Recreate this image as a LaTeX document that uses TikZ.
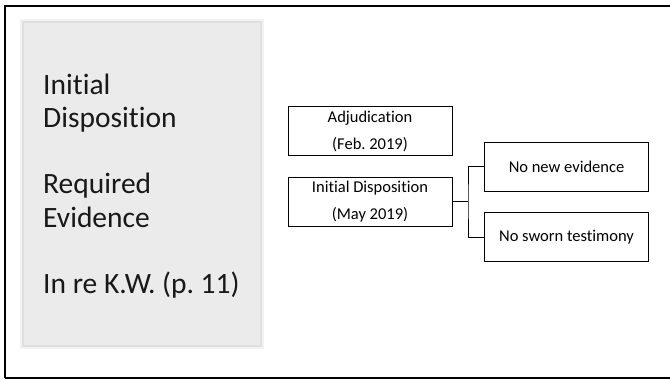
\documentclass[tikz,border=0pt]{standalone}
\usepackage{fontspec}
\setmainfont{Carlito}[Ligatures={NoCommon}]
\frenchspacing
\begin{document}
\begin{tikzpicture}[x=1pt,y=-1pt,
  leaf/.style={draw=black, line width=0.9pt, fill=white, minimum width=164pt, minimum height=49pt, inner sep=0pt, font=\fontsize{16.5}{27}\selectfont, align=center},
  side/.style={anchor=base west, inner sep=0pt, font=\fontsize{29.5}{33}\selectfont, text=black!90},
  wire/.style={draw=black, line width=0.9pt}]
\useasboundingbox (0,0) rectangle (670,380);
% outer frame
\draw[line width=2pt] (5,378) -- (5,6) -- (672,6);
\draw[line width=2pt] (5,378) -- (672,378);
% grey side panel
\fill[black!5] (20,19) rectangle (264,349);
\filldraw[fill=black!8, draw=black!12, line width=2pt] (23,22) rectangle (261,346);
\node[side] (t1) at (43,94) {Initial};
\node[side] (t2) at (43,127) {Disposition};
\node[side] (t3) at (43,193) {Required};
\node[side] (t4) at (43,227) {Evidence};
\node[side] (t5) at (43,293) {In re K.W. (p. 11)};
% boxes
\node[leaf] (adj) at (370,131) {Adjudication\\(Feb. 2019)};
\node[leaf] (ini) at (370,201.5) {Initial Disposition\\(May 2019)};
\node[leaf] (nne) at (566.5,166.5) {No new evidence};
\node[leaf] (nst) at (566.5,237) {No sworn testimony};
\coordinate (br) at (468,201.5);
\draw[wire] (ini.east) -- (br);
\draw[wire] (nne.west) -| (br) |- (nst.west);
\end{tikzpicture}
\end{document}
